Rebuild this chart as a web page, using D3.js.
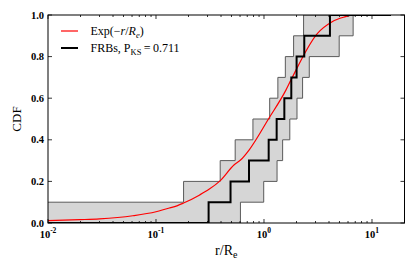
<!DOCTYPE html>
<html>
<head>
<meta charset="utf-8">
<script src="https://cdn.jsdelivr.net/npm/d3@7"></script>
<style>
  body { margin: 0; background: #fff; }
  svg { display: block; }
  text { font-family: "Liberation Serif", "Times New Roman", serif; }
</style>
</head>
<body>
<script>
// sorted offsets of the FRBs (r/Re), the CDF climbs 0.1 at each
const frbR = [0.307, 0.490, 0.726, 1.105, 1.31, 1.543, 1.79, 2.004, 2.36, 4.08];
// edges of the grey band
const upperR = [0.180, 0.393, 0.541, 0.790, 1.129, 1.344, 1.576, 1.880, 2.326];
const lowerR = [0.605, 0.994, 1.321, 1.488, 1.734, 2.021, 2.277, 2.626, 4.97, 6.69];
// exponential disk model
const expR   = [0.01, 0.0197, 0.030, 0.061, 0.10, 0.133, 0.143, 0.18, 0.254, 0.312, 0.387, 0.53, 0.61, 0.73, 1.10, 1.6, 1.78, 3.13, 4.28, 5.7, 6.5];
const expCdf = [0.011, 0.016, 0.020, 0.035, 0.054, 0.072, 0.076, 0.096, 0.135, 0.163, 0.20, 0.28, 0.304, 0.352, 0.50, 0.64, 0.688, 0.912, 0.968, 0.992, 1.0];
const xTicks = [0.01, 0.1, 1, 10];
const xTickExp = ["-2", "-1", "0", "1"];
const yTicks = [0, 0.2, 0.4, 0.6, 0.8, 1.0];

const w = 415, h = 277;
const pLeft = 48, pRight = 404.5, pTop = 15, pBottom = 223;

const svg = d3.select("body").append("svg")
  .attr("width", w).attr("height", h);

const x = d3.scaleLog().domain([0.01, 20]).range([pLeft, pRight]);
const y = d3.scaleLinear().domain([0, 1]).range([pBottom, pTop]);

svg.append("clipPath").attr("id", "clip")
  .append("rect").attr("x", pLeft).attr("y", pTop)
  .attr("width", pRight - pLeft).attr("height", pBottom - pTop);

const plot = svg.append("g").attr("clip-path", "url(#clip)");

// corner points of a step curve: flat, then up 0.1 at each r
function stepPts(rs, start) {
  const pts = [[0.01, start]];
  let lev = start;
  rs.forEach(r => {
    pts.push([r, lev]);
    lev = Math.round((lev + 0.1) * 10) / 10;
    pts.push([r, lev]);
  });
  pts.push([15, lev]);
  return pts;
}

const line = d3.line().x(d => x(d[0])).y(d => y(d[1]));

const up = stepPts(upperR, 0.1);
const lo = stepPts(lowerR, 0);

plot.append("path")
  .attr("d", line(up.concat(lo.slice().reverse())) + "Z")
  .attr("fill", "#d6d6d6")
  .attr("stroke", "none");

[up, lo].forEach(p => {
  plot.append("path")
    .attr("d", line(p))
    .attr("fill", "none")
    .attr("stroke", "#5a5a5a")
    .attr("stroke-width", 1);
});

plot.append("path")
  .datum(expR.map((r, i) => [r, expCdf[i]]))
  .attr("d", d3.line().x(d => x(d[0])).y(d => y(d[1])).curve(d3.curveMonotoneX))
  .attr("fill", "none")
  .attr("stroke", "red")
  .attr("stroke-width", 1.2);

plot.append("path")
  .attr("d", line(stepPts(frbR, 0)))
  .attr("fill", "none")
  .attr("stroke", "black")
  .attr("stroke-width", 2);

// ticks (inside, on all four sides)
const minor = [];
for (let e = -2; e <= 1; e++) {
  for (let m = 2; m <= 9; m++) {
    const v = m * Math.pow(10, e);
    if (v < 20) minor.push(v);
  }
}
const tk = svg.append("g").attr("stroke", "black").attr("stroke-width", 0.8);
xTicks.forEach(v => {
  tk.append("line").attr("x1", x(v)).attr("x2", x(v)).attr("y1", pBottom).attr("y2", pBottom - 4);
  tk.append("line").attr("x1", x(v)).attr("x2", x(v)).attr("y1", pTop).attr("y2", pTop + 4);
});
minor.forEach(v => {
  tk.append("line").attr("x1", x(v)).attr("x2", x(v)).attr("y1", pBottom).attr("y2", pBottom - 2);
  tk.append("line").attr("x1", x(v)).attr("x2", x(v)).attr("y1", pTop).attr("y2", pTop + 2);
});
yTicks.forEach(v => {
  tk.append("line").attr("x1", pLeft).attr("x2", pLeft + 4).attr("y1", y(v)).attr("y2", y(v));
  tk.append("line").attr("x1", pRight).attr("x2", pRight - 4).attr("y1", y(v)).attr("y2", y(v));
});

svg.append("rect")
  .attr("x", pLeft).attr("y", pTop)
  .attr("width", pRight - pLeft).attr("height", pBottom - pTop)
  .attr("fill", "none").attr("stroke", "black").attr("stroke-width", 1);

// tick labels
svg.append("g").selectAll("text")
  .data(yTicks).enter().append("text")
  .attr("x", pLeft - 4)
  .attr("y", d => y(d) + 3.5)
  .attr("text-anchor", "end")
  .attr("font-size", 10.5)
  .attr("font-weight", "bold")
  .text(d => d.toFixed(1));

const xl = svg.append("g").selectAll("text")
  .data(xTicks).enter().append("text")
  .attr("x", d => x(d))
  .attr("y", 238)
  .attr("text-anchor", "middle")
  .attr("font-size", 10.5)
  .attr("font-weight", "bold");
xl.append("tspan").text("10");
xl.append("tspan").attr("dy", -5).attr("font-size", 7.5).text((d, i) => xTickExp[i]);

// axis labels
svg.append("text")
  .attr("transform", "translate(21," + (pTop + pBottom) / 2 + ") rotate(-90)")
  .attr("text-anchor", "middle")
  .attr("font-size", 13)
  .text("CDF");

const xlab = svg.append("text")
  .attr("x", (pLeft + pRight) / 2)
  .attr("y", 255)
  .attr("text-anchor", "middle")
  .attr("font-size", 14);
xlab.append("tspan").text("r/R");
xlab.append("tspan").attr("dy", 3).attr("font-size", 10).text("e");

// legend
const lg = svg.append("g");
lg.append("line").attr("x1", 61).attr("x2", 78).attr("y1", 31).attr("y2", 31)
  .attr("stroke", "red").attr("stroke-width", 1.2);
lg.append("line").attr("x1", 61).attr("x2", 78).attr("y1", 48).attr("y2", 48)
  .attr("stroke", "black").attr("stroke-width", 2);

const t1 = lg.append("text").attr("x", 90.5).attr("y", 35).attr("font-size", 12);
t1.append("tspan").text("Exp(\u2212");
t1.append("tspan").attr("font-style", "italic").text("r");
t1.append("tspan").text("/");
t1.append("tspan").attr("font-style", "italic").text("R");
t1.append("tspan").attr("font-style", "italic").attr("font-size", 8.5).attr("dy", 2.5).text("e");
t1.append("tspan").attr("dy", -2.5).text(")");

const t2 = lg.append("text").attr("x", 90.5).attr("y", 52).attr("font-size", 12);
t2.append("tspan").text("FRBs, P");
t2.append("tspan").attr("font-size", 8.5).attr("dy", 2.5).text("KS");
t2.append("tspan").attr("dy", -2.5).text("\u2009=\u20090.711");
</script>
</body>
</html>
